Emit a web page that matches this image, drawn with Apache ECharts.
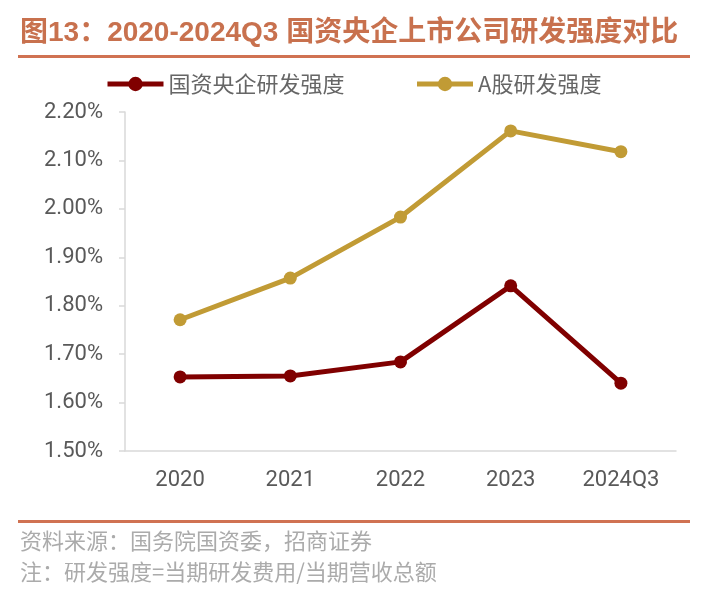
<!DOCTYPE html>
<html><head><meta charset="utf-8">
<script src="https://cdn.jsdelivr.net/npm/echarts@6/dist/echarts.min.js"></script>
<style>html,body{margin:0;padding:0;background:#fff}#c{width:711px;height:600px}</style>
</head><body><div id="c"></div>
<script>
const categories = ['2020','2021','2022','2023','2024Q3'];
const soeValues = [1.653, 1.655, 1.684, 1.841, 1.640];
const aShareValues = [1.771, 1.857, 1.983, 2.161, 2.118];
const seriesNames = ['国资央企研发强度', 'A股研发强度'];
const titleText = '图13：2020-2024Q3 国资央企上市公司研发强度对比';
const sourceText = '资料来源：国务院国资委，招商证券';
const noteText = '注：研发强度=当期研发费用/当期营收总额';

const chart = echarts.init(document.getElementById('c'));
const cjk = '"Noto Sans CJK SC", sans-serif';
const num = 'Roboto, "Noto Sans CJK SC", sans-serif';
chart.setOption({
  backgroundColor: '#fff',
  textStyle: { fontFamily: cjk },
  graphic: [
    { type: 'text', left: 20, top: 19, style: { text: titleText, fill: '#c8714e', font: 'bold 28px "Liberation Sans", "Noto Sans CJK SC", sans-serif' } },
    { type: 'rect', shape: { x: 18, y: 55, width: 672, height: 3 }, style: { fill: '#d07252' } },
    { type: 'rect', shape: { x: 18, y: 520, width: 672, height: 3 }, style: { fill: '#d07252' } },
    { type: 'text', left: 20, top: 530, style: { text: sourceText, fill: '#ababab', font: '22px ' + cjk } },
    { type: 'text', left: 20, top: 561, style: { text: noteText, fill: '#ababab', font: '22px ' + cjk } }
  ],
  legend: {
    top: 68, left: 100, itemGap: 70, itemWidth: 56, itemHeight: 18,
    lineStyle: { width: 5 },
    textStyle: { color: '#666666', fontSize: 22, fontFamily: cjk },
    data: seriesNames
  },
  grid: { left: 125, right: 35, top: 112, bottom: 149 },
  xAxis: {
    type: 'category', data: categories, boundaryGap: true,
    axisLine: { lineStyle: { color: '#d9d9d9', width: 1.5 } },
    axisTick: { show: false },
    axisLabel: { color: '#595959', fontSize: 22, margin: 18, fontFamily: num }
  },
  yAxis: {
    type: 'value', min: 1.5, max: 2.2, interval: 0.1,
    axisLine: { show: true, lineStyle: { color: '#d9d9d9', width: 1.5 } },
    axisTick: { show: true, length: 6, lineStyle: { color: '#d9d9d9', width: 1.5 } },
    splitLine: { show: false },
    axisLabel: { color: '#595959', fontSize: 22, margin: 22, fontFamily: num,
      formatter: v => v.toFixed(2) + '%' }
  },
  series: [
    { name: seriesNames[0], type: 'line', data: soeValues, symbol: 'circle', symbolSize: 13,
      lineStyle: { color: '#800000', width: 5 }, itemStyle: { color: '#800000' } },
    { name: seriesNames[1], type: 'line', data: aShareValues, symbol: 'circle', symbolSize: 13,
      lineStyle: { color: '#c19b35', width: 5 }, itemStyle: { color: '#c19b35' } }
  ]
});
</script></body></html>
